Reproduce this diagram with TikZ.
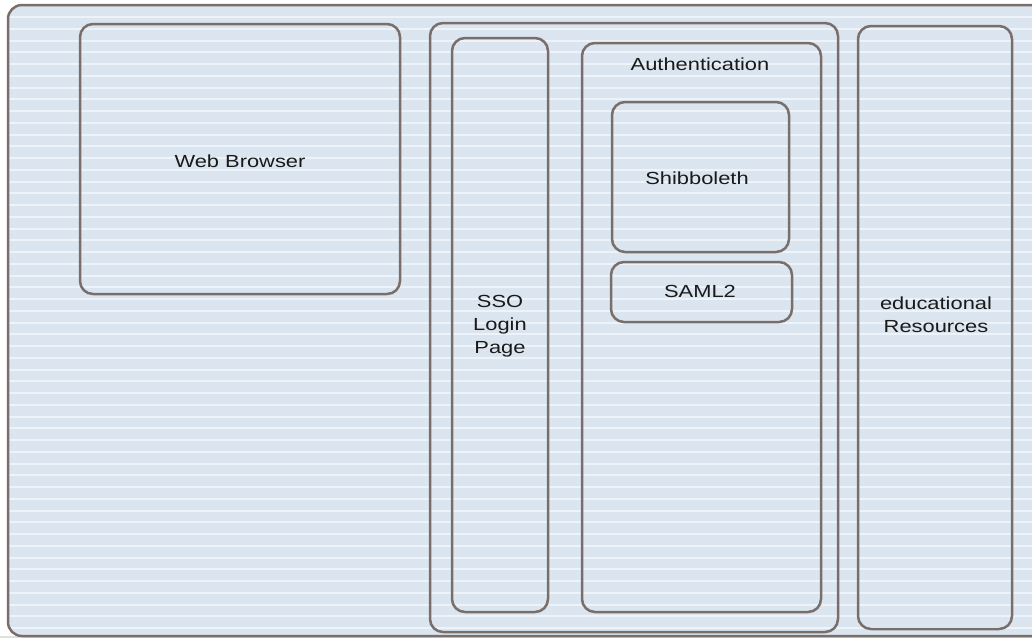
\documentclass[tikz,border=0pt]{standalone}
\usepackage{fontspec}
\setmainfont{Liberation Sans}[FakeStretch=1.25]
\definecolor{bgblue}{HTML}{DAE5EF}
\definecolor{stripe}{HTML}{EEF3F9}
\definecolor{frame}{HTML}{7A6E6A}
\definecolor{txt}{HTML}{1A1A1A}
\begin{document}
\begin{tikzpicture}[x=1pt,y=-1pt,
  box/.style={draw=frame,line width=2.5pt,rounded corners=13pt,rectangle,inner sep=0pt},
  lbl/.style={text=txt,font=\fontsize{17.5}{23}\selectfont,align=center,inner sep=0pt}]
\useasboundingbox (0,0) rectangle (1032,638);
\fill[white] (0,0) rectangle (1032,638);
\fill[black!12] (0,636) rectangle (1032,638);
% outer frame with striped background
\begin{scope}
\clip[rounded corners=14pt] (8,5) rectangle (1060,636);
\fill[bgblue] (0,0) rectangle (1060,640);
\foreach \i in {0,...,53} {
  \fill[stripe] (0,{16+\i*11.75}) rectangle (1060,{18+\i*11.75});
}
\end{scope}
\draw[draw=frame,line width=2.5pt,rounded corners=14pt] (8,5) rectangle (1060,636);
% boxes
\node[box,minimum width=320pt,minimum height=270pt] (web) at (240,159) {};
\node[lbl] (webt) at (240,161) {Web Browser};
\node[box,minimum width=408pt,minimum height=609pt] (mid) at (634,327.5) {};
\node[box,minimum width=96pt,minimum height=574pt] (sso) at (500,325) {};
\node[lbl] (ssot) at (500,326) {SSO\\Login\\Page};
\node[box,minimum width=239pt,minimum height=569pt] (auth) at (701.5,327.5) {};
\node[lbl] (autht) at (700,64) {Authentication};
\node[box,minimum width=177pt,minimum height=150pt] (shib) at (700.5,177) {};
\node[lbl] (shibt) at (697,178) {Shibboleth};
\node[box,minimum width=181pt,minimum height=60pt] (saml) at (701.5,292) {};
\node[lbl] (samlt) at (700,291) {SAML2};
\node[box,minimum width=154pt,minimum height=603pt] (edu) at (935,327.5) {};
\node[lbl] (edut) at (936,315) {educational\\Resources};
\end{tikzpicture}
\end{document}
